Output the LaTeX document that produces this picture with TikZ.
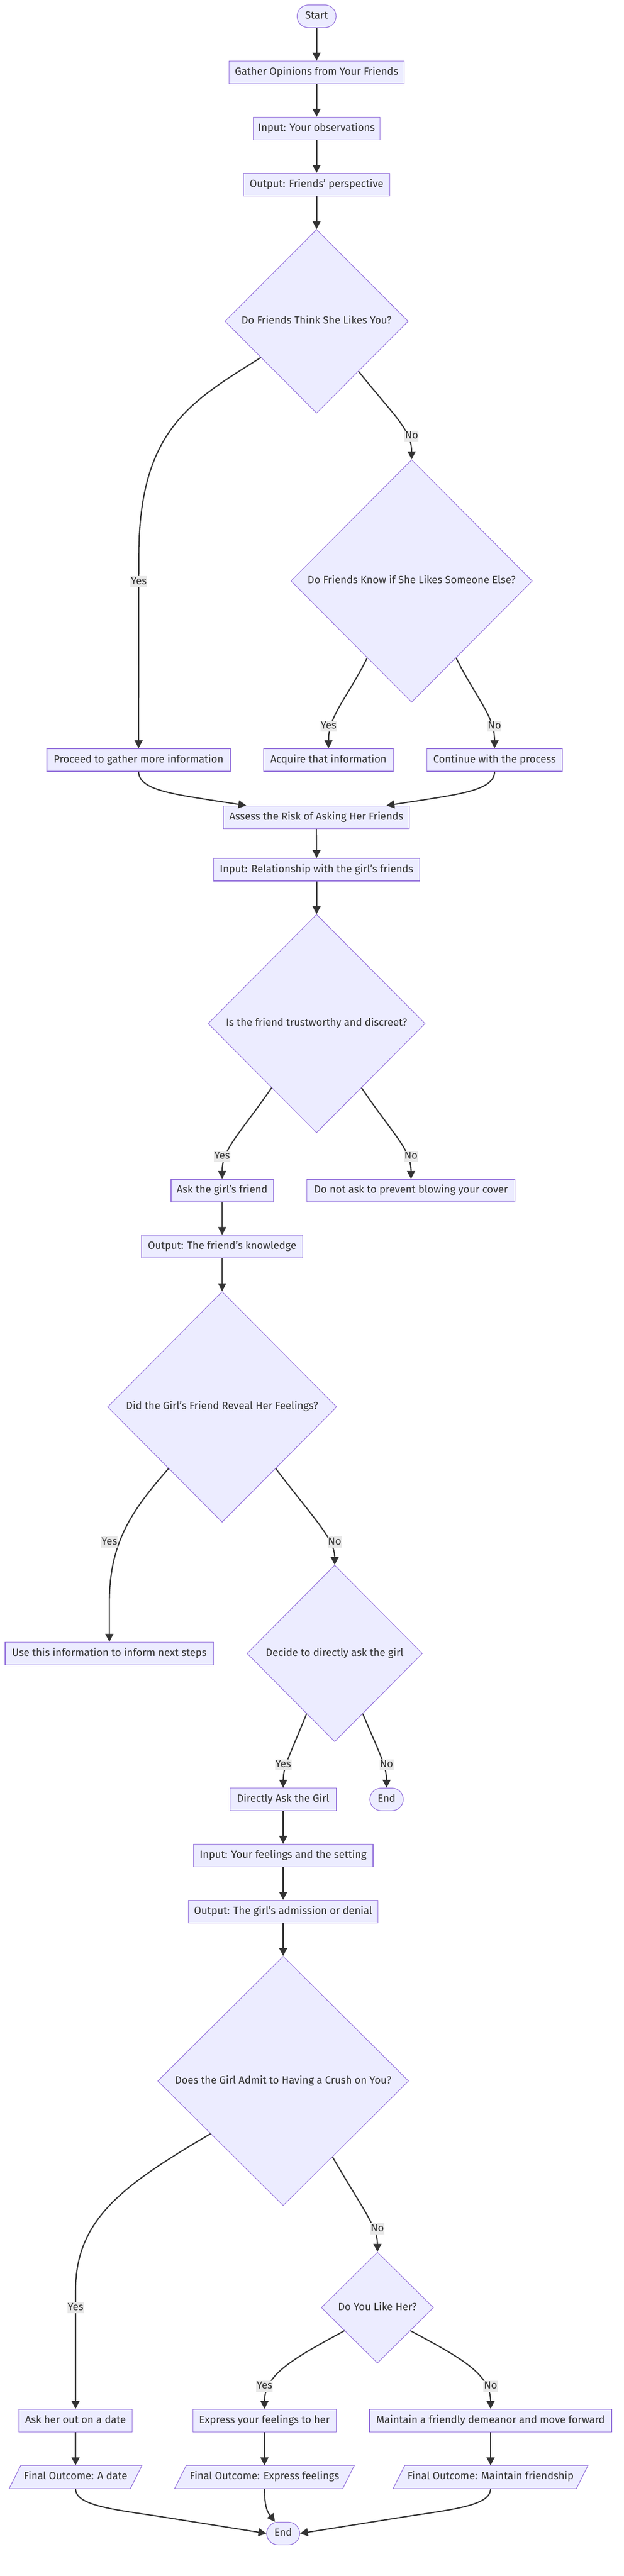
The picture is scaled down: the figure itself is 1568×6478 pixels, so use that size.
\documentclass[tikz,border=0pt]{standalone}
\usepackage{fontspec}
\setmainfont{Fira Sans}
\usetikzlibrary{shapes.geometric,arrows.meta,calc,backgrounds}
\definecolor{nfill}{HTML}{ECECFF}
\definecolor{nline}{HTML}{9370DB}
\definecolor{ink}{HTML}{333333}
\definecolor{lblbg}{HTML}{E8E8E8}
\newcommand{\zw}[1]{\makebox[0pt]{#1}}
\tikzset{
  txtfont/.style={font=\fontsize{13.1}{15.5}\selectfont, text=ink, text height=9.5pt, text depth=3pt},
  base/.style={txtfont, fill=nfill, draw=nline, line width=0.8pt, inner sep=0pt},
  box/.style={base, rectangle, minimum height=28.5pt},
  stadium/.style={box, rounded corners=14.25pt},
  dia/.style={base, diamond, line width=0.7pt},
  paratxt/.style={txtfont, rectangle, inner sep=0pt, minimum height=29pt},
  parashape/.style={fill=nfill, draw=nline, line width=0.8pt},
  conn/.style={draw=ink, line width=1.5pt, -{Triangle[length=10pt,width=10pt]}},
  lbl/.style={txtfont, fill=lblbg, inner xsep=0.5pt, inner ysep=0pt, minimum height=14pt}
}
\begin{document}
\begin{tikzpicture}[x=0.5pt,y=-0.5pt]
\useasboundingbox (0,0) rectangle (1568,6478);
\begin{scope}[on background layer]
\fill[white] (0,0) rectangle (1568,6478);
\end{scope}

% nodes
\node[stadium, minimum width=49pt] (start) at (796,41) {\zw{Start}};
\node[box, minimum width=220.5pt] (gather) at (796,182) {\zw{Gather Opinions from Your Friends}};
\node[box, minimum width=159pt] (input1) at (796,323) {\zw{Input: Your observations}};
\node[box, minimum width=184pt] (output1) at (796,464) {\zw{Output: Friends' perspective}};
\node[dia, minimum width=230.5pt, minimum height=231pt] (d1) at (796,808) {\zw{Do Friends Think She Likes You?}};
\node[dia, minimum width=303.5pt, minimum height=305pt] (d2) at (1035,1461) {\zw{Do Friends Know if She Likes Someone Else?}};
\node[box, minimum width=230.5pt] (proceed) at (348.5,1911) {\zw{Proceed to gather more information}};
\node[box, minimum width=163pt] (acquire) at (826,1911) {\zw{Acquire that information}};
\node[box, minimum width=170.5pt] (continue) at (1243.5,1911) {\zw{Continue with the process}};
\node[box, minimum width=233.5pt] (assess) at (795.5,2055) {\zw{Assess the Risk of Asking Her Friends}};
\node[box, minimum width=259pt] (input2) at (796,2187) {\zw{Input: Relationship with the girl's friends}};
\node[dia, minimum width=273pt, minimum height=274.5pt] (d3) at (796,2574) {\zw{Is the friend trustworthy and discreet?}};
\node[box, minimum width=128.5pt] (askf) at (558.5,2994) {\zw{Ask the girl's friend}};
\node[box, minimum width=261.5pt] (donot) at (1033.5,2994) {\zw{Do not ask to prevent blowing your cover}};
\node[box, minimum width=202.5pt] (output2) at (558.5,3135) {\zw{Output: The friend's knowledge}};
\node[dia, minimum width=288pt, minimum height=290pt] (d4) at (558.5,3538) {\zw{Did the Girl's Friend Reveal Her Feelings?}};
\node[box, minimum width=262pt] (use) at (275,4158) {\zw{Use this information to inform next steps}};
\node[dia, minimum width=220.5pt, minimum height=222pt] (d5) at (841.5,4158) {\zw{Decide to directly ask the girl}};
\node[box, minimum width=134pt] (directly) at (712,4525) {\zw{Directly Ask the Girl}};
\node[stadium, minimum width=42pt] (end1) at (972,4525) {\zw{End}};
\node[box, minimum width=226pt] (input3) at (712,4666) {\zw{Input: Your feelings and the setting}};
\node[box, minimum width=238.5pt] (output3) at (712,4807) {\zw{Output: The girl's admission or denial}};
\node[dia, minimum width=315.5pt, minimum height=313.5pt] (d6) at (712,5233) {\zw{Does the Girl Admit to Having a Crush on You?}};
\node[dia, minimum width=141pt, minimum height=139.5pt] (d7) at (949,5803) {\zw{Do You Like Her?}};
\node[box, minimum width=142pt] (askdate) at (190,6087) {\zw{Ask her out on a date}};
\node[box, minimum width=180pt] (express) at (665,6087) {\zw{Express your feelings to her}};
\node[box, minimum width=304.5pt] (maintain) at (1233.5,6087) {\zw{Maintain a friendly demeanor and move forward}};
\node[paratxt, minimum width=152pt] (fa) at (190,6229) {\zw{Final Outcome: A date}};
\node[paratxt, minimum width=211pt] (fe) at (665,6229) {\zw{Final Outcome: Express feelings}};
\node[paratxt, minimum width=230pt] (fm) at (1233.5,6229) {\zw{Final Outcome: Maintain friendship}};
\node[stadium, minimum width=41.5pt] (end2) at (712,6371) {\zw{End}};

\begin{scope}[on background layer]
\foreach \p in {fa,fe,fm}{
  \draw[parashape] ($(\p.north west)+(14.75,0)$) -- ($(\p.north east)+(14.75,0)$)
    -- ($(\p.south east)+(-14.75,0)$) -- ($(\p.south west)+(-14.75,0)$) -- cycle;
}
\end{scope}

% connectors
\draw[conn] (start.south) -- (gather.north);
\draw[conn] (gather.south) -- (input1.north);
\draw[conn] (input1.south) -- (output1.north);
\draw[conn] (output1.south) -- (d1.north);
\draw[conn] (d1.213) .. controls (480,1010) and (349,1080) .. (349,1400) -- (proceed.north);
\draw[conn] (d1.-50) .. controls (990,1045) and (1035,1080) .. (d2.north);
\draw[conn] (d2.240) .. controls (870,1760) and (826,1800) .. (acquire.north);
\draw[conn] (d2.-60) .. controls (1200,1760) and (1243.5,1800) .. (continue.north);
\draw[conn] (proceed.south) .. controls (348.5,1985) and (430,1996) .. (530,2012) -- ($(assess.north west)+(58,0)$);
\draw[conn] (continue.south) .. controls (1243.5,1985) and (1162,1996) .. (1062,2012) -- ($(assess.north east)+(-58,0)$);
\draw[conn] (assess.south) -- (input2.north);
\draw[conn] (input2.south) -- (d3.north);
\draw[conn] (d3.235) .. controls (600,2855) and (558.5,2890) .. (askf.north);
\draw[conn] (d3.-55) .. controls (990,2855) and (1033.5,2890) .. (donot.north);
\draw[conn] (askf.south) -- (output2.north);
\draw[conn] (output2.south) -- (d4.north);
\draw[conn] (d4.229) .. controls (330,3800) and (275,3880) .. (275,4030) -- (use.north);
\draw[conn] (d4.-49) .. controls (790,3820) and (841.5,3870) .. (d5.north);
\draw[conn] (d5.245) .. controls (735,4400) and (712,4440) .. (directly.north);
\draw[conn] (d5.-65) .. controls (950,4400) and (972,4440) .. (end1.north);
\draw[conn] (directly.south) -- (input3.north);
\draw[conn] (input3.south) -- (output3.north);
\draw[conn] (output3.south) -- (d6.north);
\draw[conn] (d6.216) .. controls (310,5495) and (190,5580) .. (190,5760) -- (askdate.north);
\draw[conn] (d6.-57) .. controls (915,5560) and (949,5600) .. (d7.north);
\draw[conn] (d7.215) .. controls (740,5930) and (665,5970) .. (express.north);
\draw[conn] (d7.-35) .. controls (1160,5930) and (1233.5,5970) .. (maintain.north);
\draw[conn] (askdate.south) -- (fa.north);
\draw[conn] (express.south) -- (fe.north);
\draw[conn] (maintain.south) -- (fm.north);
\draw[conn] (fa.south) .. controls (190,6300) and (280,6310) .. (400,6328) -- (end2.west);
\draw[conn] (fe.south) .. controls (665,6310) and (675,6320) .. (end2.125);
\draw[conn] (fm.south) .. controls (1233.5,6300) and (1144,6310) .. (1024,6328) -- (end2.east);

% edge labels
\node[lbl] (l1) at (349,1463) {Yes};
\node[lbl] (l2) at (1035,1097) {No};
\node[lbl] (l3) at (826,1826) {Yes};
\node[lbl] (l4) at (1243.5,1826) {No};
\node[lbl] (l5) at (558.5,2908) {Yes};
\node[lbl] (l6) at (1033.5,2908) {No};
\node[lbl] (l7) at (275,3878) {Yes};
\node[lbl] (l8) at (841.5,3878) {No};
\node[lbl] (l9) at (712,4438) {Yes};
\node[lbl] (l10) at (972,4438) {No};
\node[lbl] (l11) at (190,5803) {Yes};
\node[lbl] (l12) at (949,5605) {No};
\node[lbl] (l13) at (665,6001) {Yes};
\node[lbl] (l14) at (1233.5,6001) {No};
\end{tikzpicture}
\end{document}
